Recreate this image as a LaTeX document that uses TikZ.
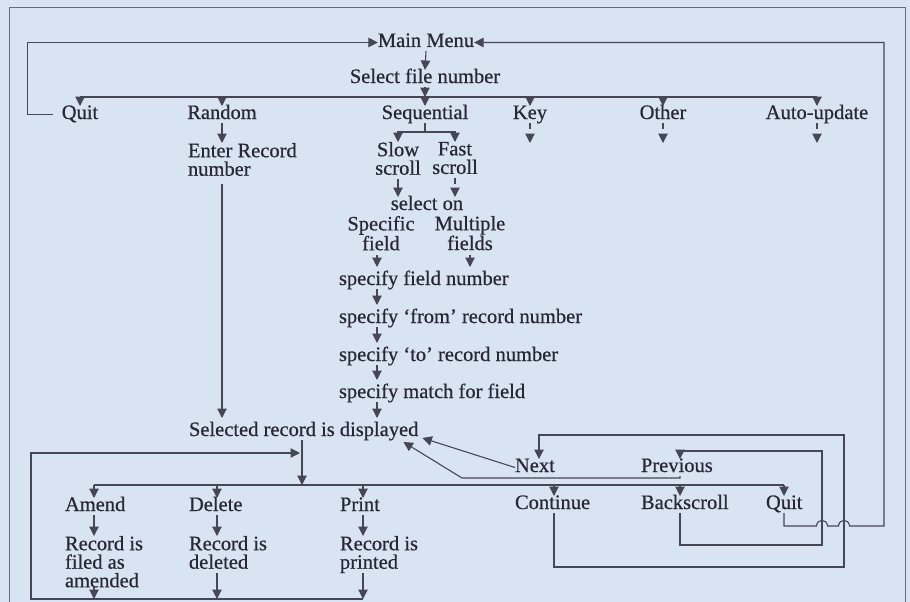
\documentclass[tikz,border=0pt]{standalone}
\usepackage{fontspec}
\setmainfont{Liberation Serif}[FakeBold=0.6]
\usetikzlibrary{arrows.meta,calc}
\definecolor{bg}{RGB}{217,228,242}
\definecolor{ink}{RGB}{70,70,84}
\definecolor{txt}{RGB}{40,40,52}
\begin{document}
\begin{tikzpicture}[x=1pt,y=-1pt,
  lbl/.style={font=\fontsize{20.5}{18.5}\selectfont, text=txt, inner sep=0pt, outer sep=0pt, text height=13pt, text depth=4pt, anchor=base},
  speclbl/.style={lbl, anchor=base west, text height=18pt},
  multi/.style={font=\fontsize{20.5}{18.5}\selectfont, text=txt, inner sep=0pt, outer sep=0pt},
  ln/.style={draw=ink, line width=1.1pt},
  arr/.style={ln, -{Triangle[length=9.5pt,width=9.5pt]}},
  darr/.style={arr, dash pattern=on 6pt off 40pt},
  frame/.style={draw=ink!80, line width=1pt},
]
\fill[bg] (0,0) rectangle (910,602);
\useasboundingbox (0,0) rectangle (910,602);
\draw[frame] (9,602) -- (9,8) -- (905,8) -- (905,602);

% ---- nodes
\node[lbl] (mm) at (426,47) {Main Menu};
\node[lbl] (sfn) at (425,83) {Select file number};
\node[lbl] (quit) at (80,119) {Quit};
\node[lbl] (random) at (222,119) {Random};
\node[lbl] (seq) at (425,119) {Sequential};
\node[lbl] (key) at (530,119) {Key};
\node[lbl] (other) at (663,119) {Other};
\node[lbl] (auto) at (817,119) {Auto-update};
\node[multi, anchor=north west, align=left] (enter) at (188,143) {Enter Record\\number};
\node[multi, anchor=north, align=center] (slow) at (398,142) {Slow\\scroll};
\node[multi, anchor=north, align=center] (fast) at (455,142) {Fast\\scroll};
\node[lbl] (selon) at (427,210) {select on};
\node[multi, anchor=north, align=center] (spec) at (381,216) {Specific\\field};
\node[multi, anchor=north, align=center] (mult) at (470,216) {Multiple\\fields};
\node[speclbl] (sfld) at (339,285) {specify field number};
\node[speclbl] (sfrom) at (339,323) {specify ‘from’ record number};
\node[speclbl] (sto) at (339,361) {specify ‘to’ record number};
\node[speclbl] (smatch) at (339,398) {specify match for field};
\node[speclbl] (sel) at (189,436) {Selected record is displayed};
\node[lbl, anchor=base west] (next) at (515,472) {Next};
\node[lbl, anchor=base west] (prev) at (641,472) {Previous};
\node[lbl, anchor=base west] (amend) at (65,511) {Amend};
\node[lbl, anchor=base west] (delete) at (189,511) {Delete};
\node[lbl, anchor=base west] (print) at (340,511) {Print};
\node[lbl, anchor=base west] (cont) at (515,509) {Continue};
\node[lbl, anchor=base west] (back) at (641,509) {Backscroll};
\node[lbl, anchor=base west] (quit2) at (766,509) {Quit};
\node[multi, anchor=north west, align=left] (filed) at (65,536) {Record is\\filed as\\amended};
\node[multi, anchor=north west, align=left] (deleted) at (189,536) {Record is\\deleted};
\node[multi, anchor=north west, align=left] (printed) at (340,536) {Record is\\printed};

% ---- helper coordinates
\coordinate (b1) at (0,97);
\coordinate (b1M) at (425,97);
\coordinate (sq) at (425,132);
\coordinate (cS) at (377,0);
\coordinate (stem) at (302,485);
\coordinate (b2) at (0,485);
\coordinate (cA) at (94,0);
\coordinate (cD) at (217,0);
\coordinate (cP) at (363,0);
\coordinate (cC) at (554,0);
\coordinate (cB) at (680,0);
\coordinate (cQ) at (784,0);
\coordinate (cN) at (539,0);
\coordinate (bL) at (31,599);
\coordinate (inS) at (300,453);
\coordinate (yN) at (0,435);
\coordinate (yP) at (0,451);
\coordinate (xN) at (844,0);
\coordinate (xB) at (822,0);

% ---- top part
\draw[arr] (mm.south) -- (sfn.north);
\draw[ln] (quit.north |- b1) -- (auto.north |- b1);
\draw[arr] (sfn.south) -- (b1M);
\foreach \n in {quit,random,seq,key,other,auto}
  \draw[arr] (\n.north |- b1) -- (\n.north);
\draw[arr] ([xshift=-9pt]quit.west) -- ++(-25,0) |- (mm.west);
\foreach \n in {key,other,auto}
  \draw[darr] (\n.south) -- ++(0,20);

% random
\draw[arr] (random.south) -- (enter.north -| random.south);
\draw[arr] ($(enter.south -| random.south)+(0,8)$) -- (sel.north -| random.south);

% sequential
\draw[ln] (seq.south) -- (sq);
\draw[arr] (sq) -| (slow.north);
\draw[arr] (sq) -| (fast.north);
\draw[arr] ($(slow.south)+(0,4)$) -- (selon.north -| slow.south);
\draw[darr] ($(fast.south)+(0,4)$) -- (selon.north -| fast.south);
\draw[arr] ($(spec.south -| cS)+(0,5)$) -- (sfld.north -| cS);
\draw[darr] ($(mult.south)+(0,5)$) -- (sfld.north -| mult.south);
\draw[arr] (sfld.south -| cS) -- (sfrom.north -| cS);
\draw[arr] (sfrom.south -| cS) -- (sto.north -| cS);
\draw[arr] (sto.south -| cS) -- (smatch.north -| cS);
\draw[arr] (smatch.south -| cS) -- (sel.north -| cS);

% selected record
\draw[arr] (sel.south -| stem) -- (stem);
\draw[ln] (b2 -| cA) -- (b2 -| cQ);
\foreach \c/\n in {cA/amend,cD/delete,cP/print,cC/cont,cB/back,cQ/quit2}
  \draw[arr] (b2 -| \c) -- (\n.north -| \c);

% amend / delete / print
\draw[arr] (amend.south -| cA) -- (filed.north -| cA);
\draw[arr] (delete.south -| cD) -- (deleted.north -| cD);
\draw[arr] (print.south -| cP) -- (printed.north -| cP);
\draw[arr] (filed.south -| cA) -- (bL -| cA);
\draw[arr] ($(deleted.south -| cD)+(0,4)$) -- (bL -| cD);
\draw[arr] (printed.south -| cP) -- (bL -| cP);
\draw[arr] (bL -| cP) -- (bL) |- (inS);

% next / previous
\draw[arr] (next.west) -- ($(sel.south east)+(4,-2)$);
\draw[arr] (prev.south -| cB) |- (462,478) -- ($(sel.south east)+(-15,2)$);

% continue -> next
\draw[arr] (cont.south -| cC) -- ++(0,54) -| (xN |- yN) -| (next.north -| cN);
% backscroll -> previous
\draw[arr] (back.south -| cB) -- ++(0,32) -| (xB |- yP) -| (prev.north -| cB);
% quit -> main menu
\draw[arr] (quit2.south -| cQ) -- (784,526) -- (816.5,526)
  .. controls (817,518.5) and (827,518.5) .. (827.5,526) -- (838.5,526)
  .. controls (839,518.5) and (849,518.5) .. (849.5,526) -- (884,526) |- (mm.east);
\end{tikzpicture}
\end{document}
